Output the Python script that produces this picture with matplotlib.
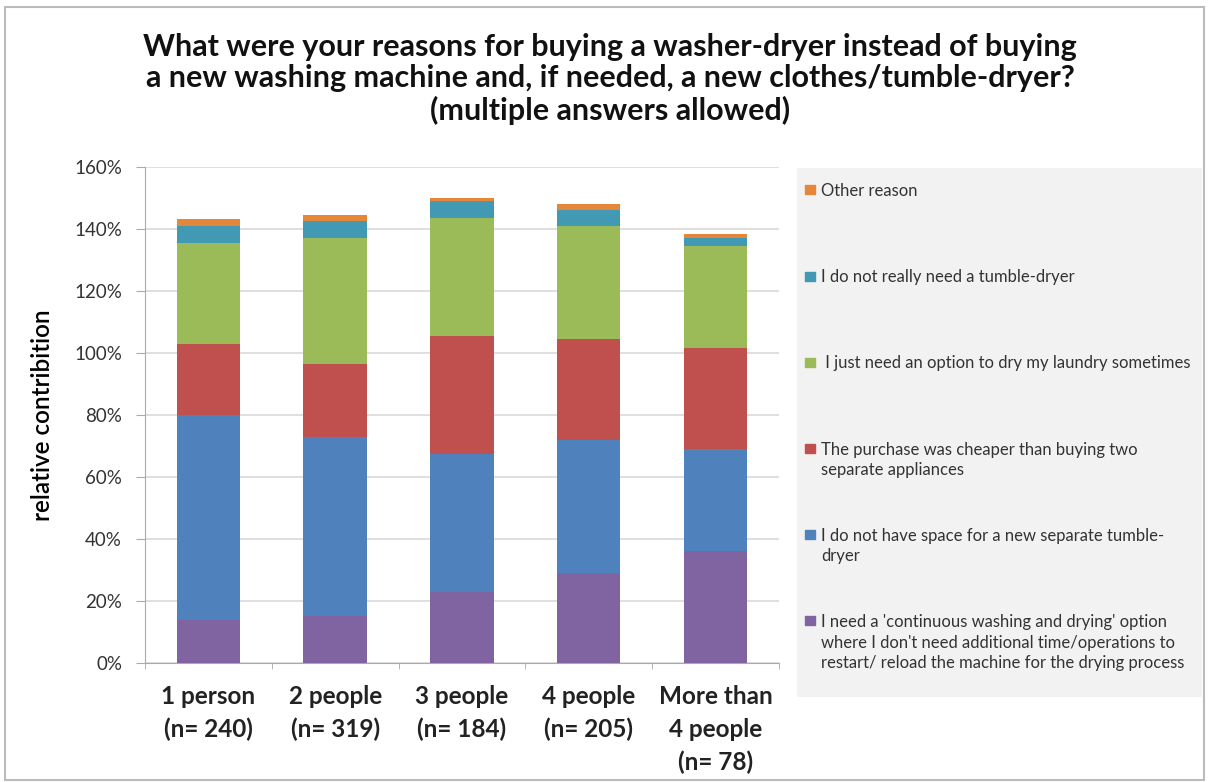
import numpy as np
import matplotlib.pyplot as plt
from matplotlib.patches import Rectangle

plt.rcParams['font.family'] = ['Lato', 'DejaVu Sans']

groups = ["1 person\n(n= 240)", "2 people\n(n= 319)", "3 people\n(n= 184)",
          "4 people\n(n= 205)", "More than\n4 people\n(n= 78)"]

# stacked shares (fraction), bottom to top
continuous = [0.14, 0.15, 0.23, 0.29, 0.36]
no_space = [0.66, 0.58, 0.445, 0.43, 0.33]
cheaper = [0.23, 0.235, 0.38, 0.325, 0.325]
dry_sometimes = [0.325, 0.405, 0.38, 0.365, 0.33]
no_need = [0.056, 0.056, 0.055, 0.05, 0.025]
other = [0.021, 0.02, 0.009, 0.019, 0.015]

series = [continuous, no_space, cheaper, dry_sometimes, no_need, other]
labels = ["I need a 'continuous washing and drying' option\nwhere I don't need additional time/operations to\nrestart/ reload the machine for the drying process",
          "I do not have space for a new separate tumble-\ndryer",
          "The purchase was cheaper than buying two\nseparate appliances",
          " I just need an option to dry my laundry sometimes",
          "I do not really need a tumble-dryer",
          "Other reason"]
colors = ["#8064A2", "#4F81BD", "#C0504D", "#9BBB59", "#4299B3", "#E4873B"]

fig = plt.figure(figsize=(12.08, 7.82), dpi=100)
ax = fig.add_axes([0.12, 0.1522, 0.5248, 0.6343])

x = np.arange(len(groups))
bottom = np.zeros(len(groups))
for vals, col in zip(series, colors):
    ax.bar(x, vals, 0.5, bottom=bottom, color=col, edgecolor='none', zorder=3)
    bottom += np.array(vals)

ax.set_xlim(-0.5, len(groups) - 0.5)
ax.set_ylim(0, 1.6)
ticks = np.arange(0, 1.61, 0.2)
ax.set_yticks(ticks)
ax.set_yticklabels([f"{int(round(v * 100))}%" for v in ticks],
                   fontsize=13.5, color='#333333')
ax.yaxis.grid(True, color='#d9d9d9', lw=1.2, zorder=0)
ax.set_xticks(x)
ax.set_xticklabels(groups, fontsize=17.5, fontweight='bold', color='#222222',
                   linespacing=1.5)
ax.set_xticks(np.arange(-0.5, len(groups)), minor=True)
ax.tick_params(axis='x', which='major', length=0, pad=16)
ax.tick_params(axis='x', which='minor', length=4, color='#aaaaaa', direction='out')
ax.tick_params(axis='y', length=6.5, color='#aaaaaa', pad=10)
for s in ['top', 'right']:
    ax.spines[s].set_visible(False)
for s in ['left', 'bottom']:
    ax.spines[s].set_color('#aaaaaa')
ax.set_ylabel("relative contribition", fontsize=17.5, fontweight='semibold')
ax.yaxis.set_label_coords(-0.1435, 0.5)

fig.text(0.505, 0.899, "What were your reasons for buying a washer-dryer instead of buying\n"
         "a new washing machine and, if needed, a new clothes/tumble-dryer?\n"
         "(multiple answers allowed)", ha='center', va='center', fontsize=22,
         fontweight='bold', linespacing=1.14, color='#111111')

# legend panel
lax = fig.add_axes([0.6598, 0.1087, 0.335, 0.6765])
lax.set_facecolor('#f2f2f2')
lax.set_xlim(0, 405)
lax.set_ylim(529, 0)
lax.set_xticks([])
lax.set_yticks([])
for s in lax.spines.values():
    s.set_visible(False)
for i, (lab, col) in enumerate(zip(labels[::-1], colors[::-1])):
    yy = 22 + 86.2 * i
    lax.add_patch(Rectangle((8, yy - 4.5), 10, 9, color=col))
    lax.text(24, yy - 7, lab, va='top', ha='left', fontsize=12,
             color='#333333', linespacing=1.36)

fig.add_artist(Rectangle((0.004, 0.003), 0.993, 0.988, transform=fig.transFigure,
                         fill=False, edgecolor='#bbbbbb', lw=1.5))

fig.savefig("out.png", dpi=100)
